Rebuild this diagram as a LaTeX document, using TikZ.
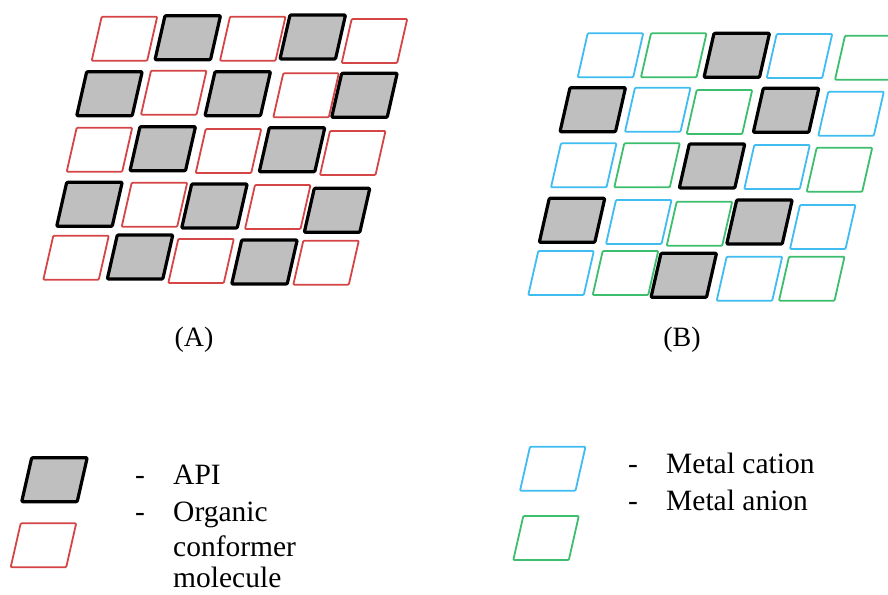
\documentclass[tikz,border=0pt]{standalone}
\usepackage{fontspec}
\setmainfont{Liberation Serif}
\definecolor{cred}{HTML}{D64545}
\definecolor{cblue}{HTML}{3FBCF0}
\definecolor{cgreen}{HTML}{3DBE6E}
\definecolor{cgray}{HTML}{BFBFBF}
\newcommand\pcell[3]{\draw[#3] (#1,#2) -- ++(55.5,0) -- ++(-10,44) -- ++(-55.5,0) -- cycle;}
\tikzset{
  apicell/.style={draw=black, fill=cgray, line width=3.2pt, rounded corners=1pt, line join=round},
  redcell/.style={draw=cred, line width=1.8pt, rounded corners=1pt, line join=round},
  bluecell/.style={draw=cblue, line width=1.8pt, rounded corners=1pt, line join=round},
  greencell/.style={draw=cgreen, line width=1.8pt, rounded corners=1pt, line join=round},
  lbl/.style={inner sep=0pt, font=\fontsize{29.5}{34}\selectfont},
  captxt/.style={inner sep=0pt, font=\fontsize{28}{32}\selectfont},
}
\begin{document}
\begin{tikzpicture}[x=1pt,y=-1pt]
\clip (0,0) rectangle (888,594);
\fill[white] (0,0) rectangle (888,594);
% ---- Grid A ----
\pcell{101.7}{16.7}{redcell}
\pcell{165}{15.7}{apicell}
\pcell{230}{16.7}{redcell}
\pcell{290}{15}{apicell}
\pcell{351.7}{19}{redcell}
\pcell{86.7}{71.7}{apicell}
\pcell{151}{70.7}{redcell}
\pcell{215}{71.7}{apicell}
\pcell{283.3}{73.3}{redcell}
\pcell{341.7}{73.3}{apicell}
\pcell{76.7}{127.7}{redcell}
\pcell{140}{126.7}{apicell}
\pcell{205.7}{129}{redcell}
\pcell{269.3}{127.7}{apicell}
\pcell{330}{131}{redcell}
\pcell{66.7}{182.3}{apicell}
\pcell{131.7}{182.7}{redcell}
\pcell{191.7}{184}{apicell}
\pcell{255}{185}{redcell}
\pcell{314.3}{188.3}{apicell}
\pcell{53.3}{235.7}{redcell}
\pcell{117.3}{235}{apicell}
\pcell{178.3}{239}{redcell}
\pcell{241.7}{240}{apicell}
\pcell{303.3}{240.7}{redcell}
% ---- Grid B ----
\pcell{587.7}{33.3}{bluecell}
\pcell{651}{33.3}{greencell}
\pcell{714}{33.3}{apicell}
\pcell{776.7}{34}{bluecell}
\pcell{845}{35.7}{greencell}
\pcell{570}{87.7}{apicell}
\pcell{635}{87.7}{bluecell}
\pcell{696.7}{90}{greencell}
\pcell{763.3}{88.3}{apicell}
\pcell{828.3}{91.7}{bluecell}
\pcell{561}{143.3}{bluecell}
\pcell{624.3}{143.3}{greencell}
\pcell{689.3}{144}{apicell}
\pcell{754.3}{145}{bluecell}
\pcell{816.7}{147.7}{greencell}
\pcell{549.3}{198.3}{apicell}
\pcell{616}{200}{bluecell}
\pcell{676.7}{201.7}{greencell}
\pcell{736.7}{200}{apicell}
\pcell{800}{205}{bluecell}
\pcell{538.3}{251}{bluecell}
\pcell{602.7}{251}{greencell}
\pcell{661}{253.3}{apicell}
\pcell{726.7}{256.7}{bluecell}
\pcell{789}{256.7}{greencell}
% ---- captions ----
\node[captxt, anchor=base] (capA) at (194,346) {(A)};
\node[captxt, anchor=base] (capB) at (682,346) {(B)};
% ---- legend left ----
\pcell{31.7}{457.7}{apicell}
\pcell{20.7}{523.3}{redcell}
\node[lbl, anchor=base west] (dashA) at (135,484) {-};
\node[lbl, anchor=base west] (tAPI) at (173,484) {API};
\node[lbl, anchor=base west] (dashB) at (135,521) {-};
\node[lbl, anchor=base west] (tOrg) at (173,521) {Organic};
\node[lbl, anchor=base west] (tConf) at (173,556) {conformer};
\node[lbl, anchor=base west] (tMol) at (173,587) {molecule};
% ---- legend right ----
\pcell{530}{446.7}{bluecell}
\pcell{523.3}{516}{greencell}
\node[lbl, anchor=base west] (dashC) at (628,473) {-};
\node[lbl, anchor=base west] (tCat) at (666,473) {Metal cation};
\node[lbl, anchor=base west] (dashD) at (628,510) {-};
\node[lbl, anchor=base west] (tAn) at (666,510) {Metal anion};
\end{tikzpicture}
\end{document}
